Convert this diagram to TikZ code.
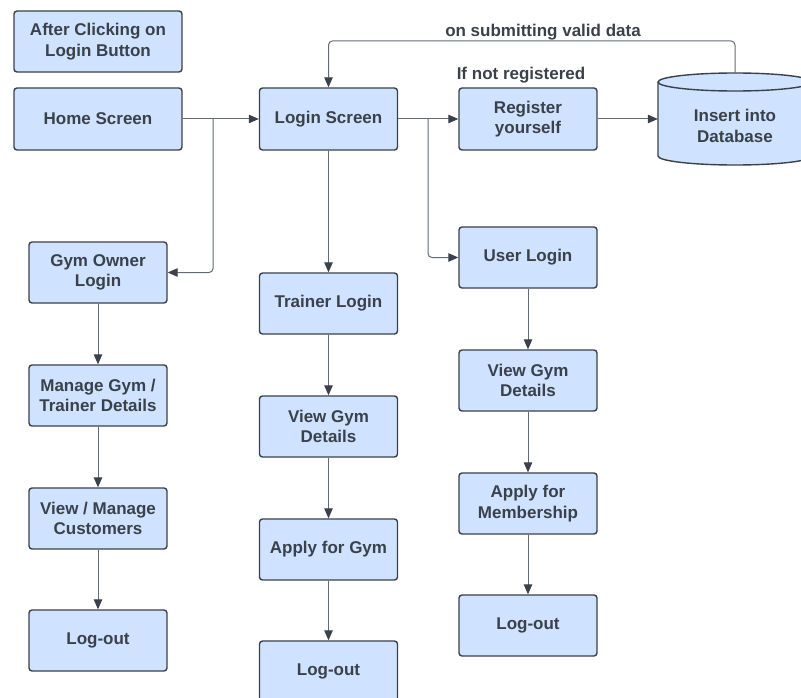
\documentclass[tikz,border=0pt]{standalone}
\usepackage{fontspec}
\setmainfont{Liberation Sans}
\usetikzlibrary{arrows.meta}
\definecolor{boxfill}{HTML}{CFE2FF}
\definecolor{ink}{HTML}{3A414A}
\definecolor{wirec}{HTML}{646B75}
\begin{document}
\begin{tikzpicture}[x=1pt,y=-1pt,
  box/.style={draw=ink, fill=boxfill, line width=1.4pt, rounded corners=3pt,
    minimum width=138pt, minimum height=61pt, align=center, text=ink,
    font=\fontsize{17}{20.5}\selectfont\bfseries, inner sep=2pt},
  widebox/.style={box, minimum width=168pt},
  lbl/.style={text=ink, font=\fontsize{17}{20}\selectfont\bfseries, inner sep=0pt},
  wire/.style={draw=wirec, line width=1pt, rounded corners=4pt,
    -{Triangle[length=10pt,width=8.5pt,color=ink]}}]
\useasboundingbox (0,0) rectangle (801,698);

% top row
\node[widebox] (after) at (98,41.5) {After Clicking on\\Login Button};
\node[widebox, minimum height=62pt] (home) at (98,119) {Home Screen};
\node[box, minimum height=62pt] (login) at (328.5,119) {Login Screen};
\node[box, minimum height=62pt] (reg) at (528,119) {Register\\yourself};

% database cylinder
\node[minimum width=154pt, minimum height=92pt, inner sep=0pt] (db) at (735,119) {};
\filldraw[draw=ink, fill=boxfill, line width=1.4pt]
  (658,82) -- (658,156) arc[start angle=180, end angle=360, x radius=77pt, y radius=9pt]
  -- (812,82) arc[start angle=0, end angle=180, x radius=77pt, y radius=9pt] -- cycle;
\draw[draw=ink, line width=1.4pt]
  (658,82) arc[start angle=180, end angle=360, x radius=77pt, y radius=9pt];
\node[text=ink, font=\fontsize{17}{20.5}\selectfont\bfseries, align=center] (dbtext) at (735,126) {Insert into\\Database};

% left column
\node[box] (gym) at (98,272.5) {Gym Owner\\Login};
\node[box] (manage) at (98,395.5) {Manage Gym /\\Trainer Details};
\node[box] (cust) at (98,518.5) {View / Manage\\Customers};
\node[box] (logl) at (98,640.5) {Log-out};

% middle column
\node[box] (trainer) at (328.5,303.5) {Trainer Login};
\node[box] (viewm) at (328.5,426.5) {View Gym\\Details};
\node[box] (applyg) at (328.5,549.5) {Apply for Gym};
\node[box] (logm) at (328.5,671.5) {Log-out};

% right column
\node[box] (user) at (528,257.5) {User Login};
\node[box] (viewr) at (528,380.5) {View Gym\\Details};
\node[box] (applym) at (528,503.5) {Apply for\\Membership};
\node[box] (logr) at (528,625.5) {Log-out};

% labels
\node[lbl] (lsubmit) at (543,32) {on submitting valid data};
\node[lbl] (lnotreg) at (521,75) {If not registered};

% connectors
\coordinate (j1) at (213,119);
\coordinate (j2) at (428,119);
\coordinate (topy) at (0,41);
\draw[wire] (home.east) -- (login.west);
\draw[wire] (j1) |- (gym.east);
\draw[wire] (login.east) -- (reg.west);
\draw[wire] (j2) |- (user.west);
\draw[wire] (login) -- (trainer);
\draw[wire] (reg.east) -- (db.west);
\draw[wire] (db.north) -- (db.north |- topy) -| (login.north);

\draw[wire] (gym) -- (manage);
\draw[wire] (manage) -- (cust);
\draw[wire] (cust) -- (logl);
\draw[wire] (trainer) -- (viewm);
\draw[wire] (viewm) -- (applyg);
\draw[wire] (applyg) -- (logm);
\draw[wire] (user) -- (viewr);
\draw[wire] (viewr) -- (applym);
\draw[wire] (applym) -- (logr);
\end{tikzpicture}
\end{document}
